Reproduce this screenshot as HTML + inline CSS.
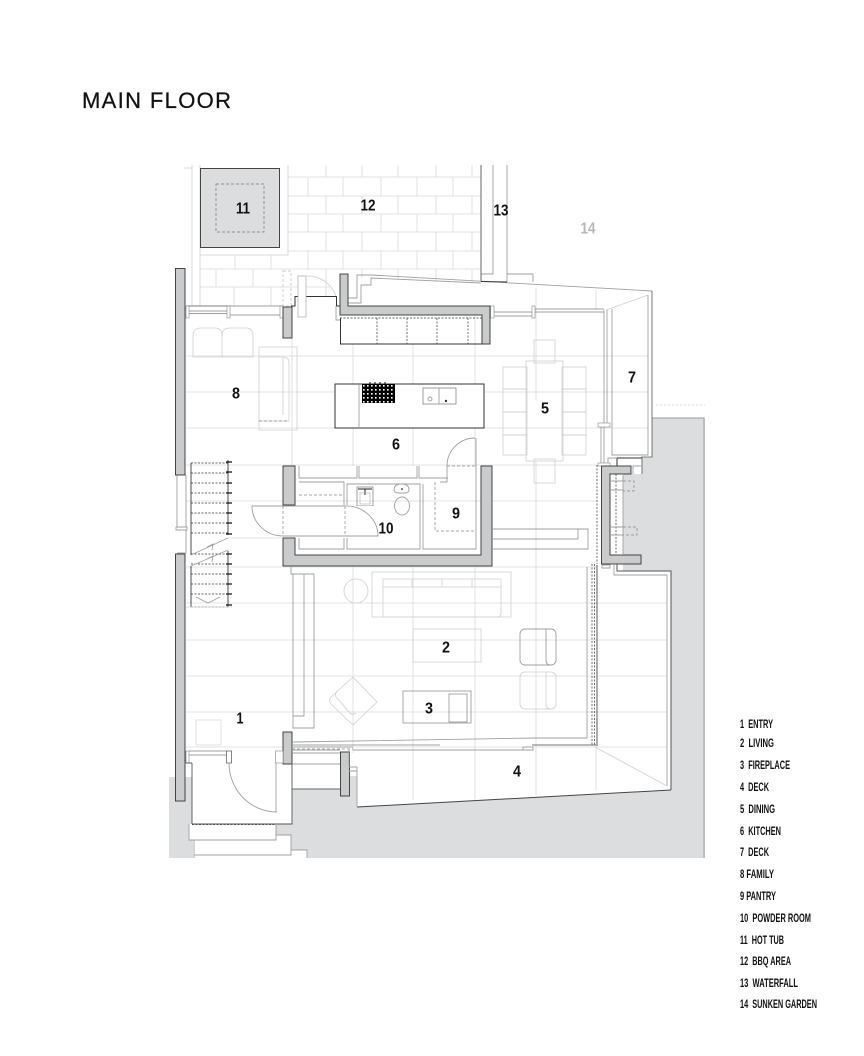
<!DOCTYPE html>
<html><head><meta charset="utf-8"><style>
html,body{margin:0;padding:0;background:#fff}
svg{display:block}
.l{fill:none;stroke:#d9dadb;stroke-width:.8}
.f{fill:none;stroke:#cfd0d1;stroke-width:.8}
.m{fill:none;stroke:#9fa0a2;stroke-width:.9}
.d{fill:none;stroke:#333;stroke-width:1}
.w{fill:#c9cbcd;stroke:#444;stroke-width:1}
.da{fill:none;stroke:#888;stroke-width:.7;stroke-dasharray:3 2}
.dd{fill:none;stroke:#333;stroke-width:.7;stroke-dasharray:2 1.500}
text{font-family:"Liberation Sans",sans-serif;white-space:pre}
.r{font-size:16px;font-weight:700;text-anchor:middle;fill:#111}
.g{font-size:11.5px;font-weight:700;fill:#111}
</style></head><body>
<svg width="864" height="1056" viewBox="0 0 864 1056" xmlns="http://www.w3.org/2000/svg">
<defs><pattern id="ck" x="362" y="384" width="4" height="4" patternUnits="userSpaceOnUse"><rect width="4" height="4" fill="#000"/><rect x="1" y="1" width="1.6" height="1.6" fill="#fff"/></pattern></defs>
<rect width="864" height="1056" fill="#fff"/>

<!-- grid -->
<path class="l" d="M186,356H648M186,392H648M186,428H648M186,465H597M186,501H597M228,538H283M186,567H597M186,603H667M186,640H667M186,676H667M186,712H667M186,747H667
M292,306V466M353,344V384M353,428V466M353,566V753M413,344V384M413,428V466M413,566V800M475,306V384M475,428V466M475,566V800M536,288V400M536,461V795M596,290V310M596,745V790"/>

<!-- ground -->
<path fill="#dcdddf" d="M169,777H192V824H189V840H193V858H169Z"/>
<path fill="#dcdddf" d="M307,858H705V418H652V457H642V474H623V571H671V790L357,807V776H349V789H292V824H276V835H291V850H307Z"/>
<path fill="none" stroke="#999" stroke-width=".9" d="M652,418H704V858"/>

<!-- paving -->
<path class="l" d="M288,177H481M288,196H481M288,214H481M288,232H481M288,251H481M200,269H481M200,287H330
M326,165V177M362,165V177M398,165V177M436,165V177M472,165V177
M308,177V196M343,177V196M381,177V196M417,177V196M453,177V196
M326,196V214M362,196V214M398,196V214M436,196V214M472,196V214
M308,214V232M343,214V232M381,214V232M417,214V232M453,214V232
M326,232V251M362,232V251M398,232V251M436,232V251M472,232V251
M308,251V269M343,251V269M381,251V269M417,251V269M453,251V269
M235,255V269M271,255V269
M216,269V287M253,269V287M326,269V296M362,269V278M398,269V280M436,269V282M472,269V282
M234,287V306M271,287V306"/>
<path class="f" d="M184,168H192M192,165V306M200,165V306M288,165V255H200"/>
<path class="m" d="M493,165V274H481M507,165V282M507,274H533V282"/>
<path d="M481,165V281" fill="none" stroke="#555" stroke-width=".9"/>

<!-- hot tub -->
<rect x="200.500" y="168.500" width="79" height="79" fill="#dcdddf" stroke="#444" stroke-width="1"/>
<rect x="216" y="184" width="48" height="48" fill="none" stroke="#777" stroke-width=".7" stroke-dasharray="3 2"/>

<!-- top north edge -->
<path class="m" d="M348,303H361V285H371V278L481,283M348,298H357V275H371L652,291"/>
<path d="M481,281.500L507,282" class="d"/>
<path class="f" d="M606,310L648,295"/>
<path d="M652,291V457H642V474" fill="none" stroke="#555" stroke-width=".8"/>
<path class="m" d="M648,295V455H612V309"/>

<!-- north windows -->
<path d="M186,306H283" fill="none" stroke="#555" stroke-width=".8"/>
<path class="m" d="M189,311H227M189,313.500H227M230,306H280M230,315H280"/>
<rect x="186" y="306" width="3" height="12" fill="#fff" stroke="#888" stroke-width=".6"/>
<rect x="227" y="306" width="3" height="12" fill="#fff" stroke="#888" stroke-width=".6"/>
<rect x="280" y="306" width="3" height="12" fill="#fff" stroke="#888" stroke-width=".6"/>
<rect x="283" y="271" width="8" height="35" fill="none" stroke="#bbb" stroke-width=".7" stroke-dasharray="3 2"/>
<path class="d" d="M291,306H295V296.500H336.500V306H340"/>
<rect x="298" y="276" width="8" height="41" fill="#fff" stroke="#aaa" stroke-width=".7"/>
<path class="f" d="M306,276A30,30 0 0 1 336,296"/>
<path class="m" d="M336,306V320H340"/>
<path class="m" d="M494,312H532M494,316H532M535,309H604M535,312H604M604,310V425M607,310V425M601,427V463M604,427V463"/>
<rect x="490.500" y="306" width="3.500" height="12" fill="#fff" stroke="#888" stroke-width=".6"/>
<rect x="532" y="306" width="3" height="12" fill="#fff" stroke="#888" stroke-width=".6"/>
<rect x="598" y="423" width="12" height="4" fill="#fff" stroke="#888" stroke-width=".6"/>
<rect x="598" y="463" width="12" height="3" fill="#fff" stroke="#888" stroke-width=".6"/>
<path d="M652,405H705" fill="none" stroke="#ddd" stroke-width="1" stroke-dasharray="2 2"/>

<!-- cabinetry north -->
<path class="d" d="M340.500,318V344H482" />
<path class="dd" d="M340,318H482M377,318V344M407,318V344M437,318V344M468,318V344"/>

<!-- family furniture -->
<path class="f" d="M193,357V336Q193,328 201,328H215Q222,328 222,336V357ZM222,357V336Q222,328 230,328H246Q253,328 253,336V357Z"/>
<path class="f" d="M259,347H297V430H259ZM259,357H283Q289,357 289,363V421H259M283,357V415M283,421H289"/>
<path class="da" d="M259,421H288"/>

<!-- island -->
<rect x="335" y="384" width="149" height="44" fill="#fff" stroke="#333" stroke-width="1"/>
<path class="m" d="M359,384V428"/>
<rect x="362" y="384" width="33" height="19" fill="url(#ck)"/>
<path d="M370,382V384M375,382V384M380,382V384M385,382V384" stroke="#000" stroke-width="1"/>
<rect x="423" y="388" width="33" height="16" fill="none" stroke="#888" stroke-width=".8"/>
<path class="m" d="M439,388V404"/>
<circle cx="430" cy="399" r="2" class="m"/>
<circle cx="446" cy="401" r="1.200" fill="#333"/>

<!-- dining -->
<rect class="f" x="526" y="361" width="37" height="100"/>
<rect class="f" x="503" y="367" width="24" height="22"/><rect class="f" x="503" y="389" width="24" height="23"/><rect class="f" x="503" y="412" width="24" height="23"/><rect class="f" x="503" y="435" width="24" height="20"/>
<rect class="f" x="562" y="367" width="24" height="22"/><rect class="f" x="562" y="389" width="24" height="23"/><rect class="f" x="562" y="412" width="24" height="23"/><rect class="f" x="562" y="435" width="24" height="20"/>
<rect class="f" x="534" y="340" width="21" height="23"/>
<rect class="f" x="534" y="459" width="21" height="24"/>

<!-- stairs -->
<path class="m" d="M177,475V527M186,475V527M176,527H187V530H176ZM186,530V553M177,553H186"/>
<path class="dd" d="M191,463H228M191,473H228M191,483H228M191,493H228M191,503H228M191,513H228M191,523H228M191,533H228M191,554H228M191,564H228M191,574H228M191,584H228M191,594H228M191,607H228"/>
<path d="M191,463V555M228,460V535M191,566V607M228,551V607" stroke="#222" stroke-width=".8" fill="none"/>
<path d="M226,462H232M226,472H232M226,483H232M226,493H232M226,503H232M226,513H232M226,523H232M226,534H232M226,554H232M226,564H232M226,574H232M226,584H232M226,594H232M226,605H232" stroke="#111" stroke-width="1.300"/>
<path class="m" d="M191,555L228,538M191,566L228,550M207,547L213,544L212,550M207,559L213,556L212,562M196,597L208,603L220,597"/>
<path class="f" d="M186,607H232"/>

<!-- core interior -->
<path class="m" d="M299,466V478H357V466M359,466V478H417V466M419,466V478H448"/>
<path class="m" d="M299,482H344V505M299,538V549H344V538M347,505V484H420V549H347V538M423,484V549H476V438"/>
<path class="da" d="M299,495H344M435,482V531H476M447,466H476"/>
<path class="m" d="M447,466V482H440M447,466A28,28 0 0 1 475,438"/>
<rect x="357" y="487" width="16" height="19" fill="none" stroke="#777" stroke-width=".7"/>
<path d="M358,489H372M365,489V495" stroke="#222" stroke-width="1" fill="none"/>
<rect x="360" y="493" width="10" height="11" fill="none" stroke="#aaa" stroke-width=".6"/>
<path class="m" d="M394,490Q394,484 401.500,484Q409,484 409,490Q409,493 404,493H399Q394,493 394,490Z"/>
<ellipse cx="402" cy="506" rx="7.500" ry="9" class="m"/>
<circle cx="402" cy="489" r=".9" fill="#222"/>
<rect x="283" y="506" width="95" height="30" fill="#fff"/>
<path class="m" d="M252,506H345M345,506A32,30 0 0 1 378,536H283A31,30 0 0 1 252,506"/>
<path class="da" d="M283,506V536M345,506V536"/>

<!-- walls -->
<path class="w" d="M175.500,268.500H185V475H175.500Z"/>
<path class="w" d="M175.500,554H185V801H175.500Z"/>
<rect class="w" x="283" y="307" width="9" height="31"/>
<path class="w" d="M340,274H348V306H490V344H482V315H340Z"/>
<rect class="w" x="283" y="466" width="12" height="39"/>
<path class="w" d="M283,538H295V555H481V466H492V566H283Z"/>
<path class="w" d="M601.500,466H631V474H610V555H641V564H601.500Z"/>
<rect class="w" x="283" y="732" width="9" height="32"/>
<rect class="w" x="340.500" y="752" width="9" height="44"/>

<!-- east side of core -->
<path class="m" d="M493,529H588V549H493M493,539H578V529"/>
<path class="dd" d="M597,465V564"/>
<path class="d" d="M617,466V458H642" />
<path class="m" d="M608,463V458H617M642,466H633V474"/>
<path class="dd" d="M616,474V555"/>
<path class="m" d="M623,474V555M610,490H623M610,527H623M610,535H623M610,481H623"/>
<path class="da" d="M623,481H634V491H623M623,527H637V535H623"/>
<path d="M617,564V571H671V790" fill="none" stroke="#555" stroke-width="1"/>
<path class="m" d="M614,564V575H667V786"/>
<path class="m" d="M602,565H610V568H602Z"/>

<!-- south deck -->
<path d="M357,807L671,790" fill="none" stroke="#444" stroke-width="1"/>
<path class="m" d="M357,767V807M349,771H357M349,767H357"/>
<path class="f" d="M595,747L667,786"/>

<!-- living east slider -->
<path class="dd" d="M592,564V745M594.500,564V745"/>
<path d="M597,565V746" stroke="#333" stroke-width=".8" fill="none"/>
<path class="m" d="M587,567V738H537L292,742M292,745H440"/>
<path d="M532,745H596" fill="none" stroke="#444" stroke-width=".8"/>
<path class="m" d="M353,750H523M523,747H533V750H523ZM292,747H353M292,750H340M292,753H340M292,764H340"/>
<path class="da" d="M292,749H353"/>
<path class="m" d="M349,750V767"/>

<!-- living furniture -->
<path class="f" d="M372,572H511V617H372Z"/>
<path class="f" d="M383,579H501V613Q501,617 497,617H383ZM383,587H501M412,579V587M442,579V587M472,579V587"/>
<path class="f" d="M344,591a12,12 0 1 0 24,0a12,12 0 1 0 -24,0"/>
<rect class="f" x="413" y="629" width="68" height="33"/>
<rect class="m" x="403" y="691" width="68" height="32"/>
<rect class="m" x="449" y="694" width="18" height="28"/>
<rect class="m" x="520" y="629" width="36" height="36" rx="5"/>
<path class="m" d="M546,629V660Q546,665 551,665"/>
<rect class="f" x="520" y="672" width="36" height="37" rx="5"/>
<path class="f" d="M546,672V704Q546,709 551,709"/>
<path class="f" d="M353,677L377,702L353,725L331,704Q328,700 331,697ZM337,691Q334,695 337,698L349,712Q352,716 356,713"/>
<rect x="196" y="720" width="25" height="25" class="l"/>
<path class="m" d="M293,574V728H314V574M304,574V716H293M291,567V574H314"/>

<!-- entry -->
<path class="m" d="M189,751H227M189,755H227M186,751V763M276,751V812"/>
<rect x="186" y="751" width="3" height="12" fill="#fff" stroke="#888" stroke-width=".6"/>
<rect x="226.500" y="751" width="5" height="12" fill="#fff" stroke="#555" stroke-width=".7"/>
<rect x="275.500" y="751" width="7.500" height="12" fill="#fff" stroke="#888" stroke-width=".6"/>
<path class="m" d="M229,763A48,49 0 0 0 277,812"/>
<path d="M192,763V824M292,764V824H192M186,763H192" fill="none" stroke="#555" stroke-width=".9"/>
<path class="dd" d="M192,824.500H276"/>
<path class="m" d="M189,824V840H276V824M194,840V855H291V835H276M194,855V858M291,850H307V858"/>
<path d="M292,764V789H340" fill="none" stroke="#666" stroke-width="1"/>

<!-- room labels -->
<text class="r" x="240" y="723.500" textLength="7" lengthAdjust="spacingAndGlyphs">1</text>
<text class="r" x="446" y="652.500" textLength="8" lengthAdjust="spacingAndGlyphs">2</text>
<text class="r" x="429" y="713.500" textLength="8" lengthAdjust="spacingAndGlyphs">3</text>
<text class="r" x="517" y="776.500" textLength="8" lengthAdjust="spacingAndGlyphs">4</text>
<text class="r" x="545" y="413.500" textLength="8" lengthAdjust="spacingAndGlyphs">5</text>
<text class="r" x="396" y="449.500" textLength="8" lengthAdjust="spacingAndGlyphs">6</text>
<text class="r" x="632" y="382.500" textLength="8" lengthAdjust="spacingAndGlyphs">7</text>
<text class="r" x="236" y="398.500" textLength="8" lengthAdjust="spacingAndGlyphs">8</text>
<text class="r" x="456" y="518.500" textLength="8" lengthAdjust="spacingAndGlyphs">9</text>
<text class="r" x="386" y="533.500" textLength="15" lengthAdjust="spacingAndGlyphs">10</text>
<text class="r" x="243" y="213.500" textLength="14" lengthAdjust="spacingAndGlyphs">11</text>
<text class="r" x="368" y="210.500" textLength="15" lengthAdjust="spacingAndGlyphs">12</text>
<text class="r" x="501" y="215.500" textLength="15" lengthAdjust="spacingAndGlyphs">13</text>
<text class="r" x="588" y="233.500" textLength="15" lengthAdjust="spacingAndGlyphs" style="fill:#b5b6b8">14</text>

<!-- title -->
<text x="82" y="108" font-size="22" fill="#111" stroke="#111" stroke-width=".25" textLength="149" lengthAdjust="spacing">MAIN FLOOR</text>

<!-- legend -->
<text class="g" x="740" y="728" textLength="33" lengthAdjust="spacingAndGlyphs">1  ENTRY</text>
<text class="g" x="740" y="747" textLength="34" lengthAdjust="spacingAndGlyphs">2  LIVING</text>
<text class="g" x="740" y="769" textLength="50" lengthAdjust="spacingAndGlyphs">3  FIREPLACE</text>
<text class="g" x="740" y="791" textLength="29" lengthAdjust="spacingAndGlyphs">4  DECK</text>
<text class="g" x="740" y="813" textLength="35" lengthAdjust="spacingAndGlyphs">5  DINING</text>
<text class="g" x="740" y="835" textLength="41" lengthAdjust="spacingAndGlyphs">6  KITCHEN</text>
<text class="g" x="740" y="856" textLength="29" lengthAdjust="spacingAndGlyphs">7  DECK</text>
<text class="g" x="740" y="878" textLength="34" lengthAdjust="spacingAndGlyphs">8 FAMILY</text>
<text class="g" x="740" y="900" textLength="36" lengthAdjust="spacingAndGlyphs">9 PANTRY</text>
<text class="g" x="740" y="922" textLength="71" lengthAdjust="spacingAndGlyphs">10  POWDER ROOM</text>
<text class="g" x="740" y="944" textLength="44" lengthAdjust="spacingAndGlyphs">11  HOT TUB</text>
<text class="g" x="740" y="965" textLength="51" lengthAdjust="spacingAndGlyphs">12  BBQ AREA</text>
<text class="g" x="740" y="987" textLength="58" lengthAdjust="spacingAndGlyphs">13  WATERFALL</text>
<text class="g" x="740" y="1008" textLength="77" lengthAdjust="spacingAndGlyphs">14  SUNKEN GARDEN</text>
</svg>
</body></html>
